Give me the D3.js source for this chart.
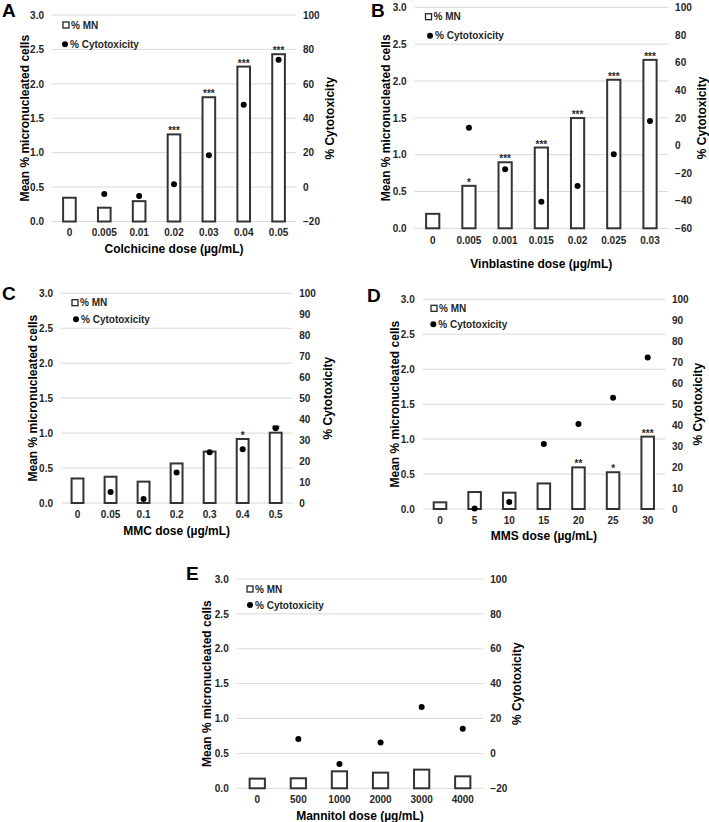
<!DOCTYPE html>
<html>
<head>
<meta charset="utf-8">
<script src="https://cdn.jsdelivr.net/npm/d3@7"></script>
<style>
  body { margin: 0; background: #fff; }
  svg { display: block; font-family: "Liberation Sans", Arial, sans-serif; font-weight: bold; }
</style>
</head>
<body>
<svg id="chart" width="709" height="822"></svg>
<script>
// ---------- DATA ----------
const colchicineDoses = ["0", "0.005", "0.01", "0.02", "0.03", "0.04", "0.05"];
const colchicineMN = [0.36, 0.215, 0.31, 1.28, 1.82, 2.265, 2.445];
const colchicineCyto = [null, -4.0, -5.2, 1.6, 18.5, 47.9, 74.0];
const colchicineSig = ["", "", "", "***", "***", "***", "***"];

const vinblastineDoses = ["0", "0.005", "0.001", "0.015", "0.02", "0.025", "0.03"];
const vinblastineMN = [0.21, 0.59, 0.91, 1.11, 1.51, 2.03, 2.30];
const vinblastineCyto = [null, 12.8, -17.3, -40.8, -29.4, -6.4, 17.7];
const vinblastineSig = ["", "*", "***", "***", "***", "***", "***"];

const mmcDoses = ["0", "0.05", "0.1", "0.2", "0.3", "0.4", "0.5"];
const mmcMN = [0.365, 0.39, 0.32, 0.58, 0.75, 0.93, 1.02];
const mmcCyto = [null, 5.3, 1.9, 14.5, 24.2, 25.6, 35.7];
const mmcSig = ["", "", "", "", "", "*", "**"];

const mmsDoses = ["0", "5", "10", "15", "20", "25", "30"];
const mmsMN = [0.11, 0.257, 0.248, 0.38, 0.61, 0.54, 1.05];
const mmsCyto = [null, 0.2, 3.3, 31.0, 40.5, 53.1, 72.2];
const mmsSig = ["", "", "", "", "**", "*", "***"];

const mannitolDoses = ["0", "500", "1000", "2000", "3000", "4000"];
const mannitolMN = [0.153, 0.158, 0.258, 0.239, 0.282, 0.186];
const mannitolCyto = [null, 8.3, -6.1, 6.2, 26.6, 14.2];
const mannitolSig = ["", "", "", "", "", ""];

const leftTicks = [0, 0.5, 1.0, 1.5, 2.0, 2.5, 3.0];
const leftTitle = "Mean % micronucleated cells";
const rightTitle = "% Cytotoxicity";
const legendMN = "% MN";
const legendCyto = "% Cytotoxicity";

// ---------- LAYOUT ----------
const panels = [
  { letter: "A", doses: colchicineDoses, mn: colchicineMN, cyto: colchicineCyto, sig: colchicineSig,
    xTitle: "Colchicine dose (µg/mL)", rDomain: [-20, 100], rStep: 20,
    x0: 52, x1: 296, yTop: 15, yBot: 221.5, letterPos: [2, 17],
    legSq: [66, 25], legDot: [65, 44.3], lTitleX: 25, rTitleX: 330, tickY: 236, titleY: 253 },
  { letter: "B", doses: vinblastineDoses, mn: vinblastineMN, cyto: vinblastineCyto, sig: vinblastineSig,
    xTitle: "Vinblastine dose (µg/mL)", rDomain: [-60, 100], rStep: 20,
    x0: 414.6, x1: 668.1, yTop: 7.3, yBot: 228.3, letterPos: [371, 17],
    legSq: [428.5, 16.7], legDot: [430, 35.7], lTitleX: 386, rTitleX: 702, tickY: 244, titleY: 268 },
  { letter: "C", doses: mmcDoses, mn: mmcMN, cyto: mmcCyto, sig: mmcSig,
    xTitle: "MMC dose (µg/mL)", rDomain: [0, 100], rStep: 10,
    x0: 61, x1: 292.2, yTop: 293.3, yBot: 503, letterPos: [2, 300],
    legSq: [75, 302.7], legDot: [76, 319.3], lTitleX: 33, rTitleX: 328, tickY: 518, titleY: 535 },
  { letter: "D", doses: mmsDoses, mn: mmsMN, cyto: mmsCyto, sig: mmsSig,
    xTitle: "MMS dose (µg/mL)", rDomain: [0, 100], rStep: 10,
    x0: 422.7, x1: 665, yTop: 299.3, yBot: 509, letterPos: [367, 302],
    legSq: [434, 308.3], legDot: [433.3, 324.3], lTitleX: 395, rTitleX: 698, tickY: 524, titleY: 540 },
  { letter: "E", doses: mannitolDoses, mn: mannitolMN, cyto: mannitolCyto, sig: mannitolSig,
    xTitle: "Mannitol dose (µg/mL)", rDomain: [-20, 100], rStep: 20,
    x0: 236.7, x1: 483.3, yTop: 579, yBot: 788.3, letterPos: [186, 580],
    legSq: [250, 589], legDot: [250, 605], lTitleX: 206.7, rTitleX: 516.7, tickY: 803, titleY: 820 }
];

const svg = d3.select("#chart");
svg.append("rect").attr("width", 709).attr("height", 822).attr("fill", "#fff");

const FONT = '"Liberation Sans", Arial, sans-serif';

function drawPanel(p) {
  const g = svg.append("g");
  const x = d3.scaleBand().domain(p.doses).range([p.x0, p.x1]);
  const yL = d3.scaleLinear().domain([0, 3]).range([p.yBot, p.yTop]);
  const yR = d3.scaleLinear().domain(p.rDomain).range([p.yBot, p.yTop]);
  const rTicks = d3.range(p.rDomain[0], p.rDomain[1] + 0.001, p.rStep);

  // gridlines
  g.selectAll(".grid").data(leftTicks).join("line")
    .attr("x1", p.x0).attr("x2", p.x1)
    .attr("y1", d => yL(d)).attr("y2", d => yL(d))
    .attr("stroke", "#d9d9d9").attr("stroke-width", 1);

  // left axis (labels only)
  const axL = d3.axisLeft(yL).tickValues(leftTicks).tickFormat(d3.format(".1f")).tickSize(0).tickPadding(8);
  const gL = g.append("g").attr("transform", `translate(${p.x0},0)`).call(axL);
  gL.select(".domain").remove();
  gL.selectAll("text").attr("font-size", 10).attr("font-weight", "bold")
    .attr("font-family", FONT).attr("fill", "#262626");

  // right axis
  const axR = d3.axisRight(yR).tickValues(rTicks).tickFormat(d3.format("d")).tickSize(0).tickPadding(7);
  const gR = g.append("g").attr("transform", `translate(${p.x1},0)`).call(axR);
  gR.select(".domain").remove();
  gR.selectAll("text").attr("font-size", 10).attr("font-weight", "bold")
    .attr("font-family", FONT).attr("fill", "#262626");

  // x axis labels
  const axB = d3.axisBottom(x).tickSize(0).tickPadding(0);
  const gB = g.append("g").attr("transform", `translate(0,${p.tickY})`).call(axB);
  gB.select(".domain").remove();
  gB.selectAll("text").attr("dy", 0).attr("y", 0).attr("font-size", 10).attr("font-weight", "bold")
    .attr("font-family", FONT).attr("fill", "#262626");

  // bars
  const sw = 2;
  const bw = x.step() * 0.42;
  const rows = p.doses.map((d, i) => ({ d, v: p.mn[i], s: p.sig[i], c: p.cyto[i] }));
  g.selectAll(".bar").data(rows).join("rect")
    .attr("x", d => x(d.d) + x.bandwidth() / 2 - bw / 2 + sw / 2)
    .attr("width", bw - sw)
    .attr("y", d => yL(d.v) + sw / 2)
    .attr("height", d => yL(0) - yL(d.v) - sw / 2)
    .attr("fill", "#fff").attr("stroke", "#333").attr("stroke-width", sw);

  // significance
  g.selectAll(".sig").data(rows.filter(d => d.s)).join("text")
    .attr("x", d => x(d.d) + x.bandwidth() / 2)
    .attr("y", d => yL(d.v) + 1)
    .attr("text-anchor", "middle").attr("font-size", 10).attr("fill", "#262626")
    .text(d => d.s);

  // dots
  g.selectAll(".dot").data(rows.filter(d => d.c !== null)).join("circle")
    .attr("cx", d => x(d.d) + x.bandwidth() / 2)
    .attr("cy", d => yR(d.c))
    .attr("r", 3).attr("fill", "#000");

  // titles
  const yMid = (p.yTop + p.yBot) / 2;
  g.append("text").attr("transform", `translate(${p.lTitleX},${yMid}) rotate(-90)`)
    .attr("dy", "0.35em").attr("text-anchor", "middle").attr("font-size", 12).attr("fill", "#000")
    .text(leftTitle);
  g.append("text").attr("transform", `translate(${p.rTitleX},${yMid}) rotate(-90)`)
    .attr("dy", "0.35em").attr("text-anchor", "middle").attr("font-size", 12).attr("fill", "#000")
    .text(rightTitle);
  g.append("text").attr("x", (p.x0 + p.x1) / 2).attr("y", p.titleY)
    .attr("text-anchor", "middle").attr("font-size", 12).attr("fill", "#000")
    .text(p.xTitle);

  // panel letter
  g.append("text").attr("x", p.letterPos[0]).attr("y", p.letterPos[1])
    .attr("font-size", 19).attr("fill", "#000").text(p.letter);

  // legend
  g.append("rect").attr("x", p.legSq[0] - 3).attr("y", p.legSq[1] - 3).attr("width", 6).attr("height", 6)
    .attr("fill", "#fff").attr("stroke", "#262626").attr("stroke-width", 1.3);
  g.append("text").attr("x", p.legSq[0] + 5).attr("y", p.legSq[1] + 3.6)
    .attr("font-size", 10).attr("fill", "#262626").text(legendMN);
  g.append("circle").attr("cx", p.legDot[0]).attr("cy", p.legDot[1]).attr("r", 3).attr("fill", "#000");
  g.append("text").attr("x", p.legDot[0] + 5).attr("y", p.legDot[1] + 3.6)
    .attr("font-size", 10).attr("fill", "#262626").text(legendCyto);
}

panels.forEach(drawPanel);
</script>
</body>
</html>
